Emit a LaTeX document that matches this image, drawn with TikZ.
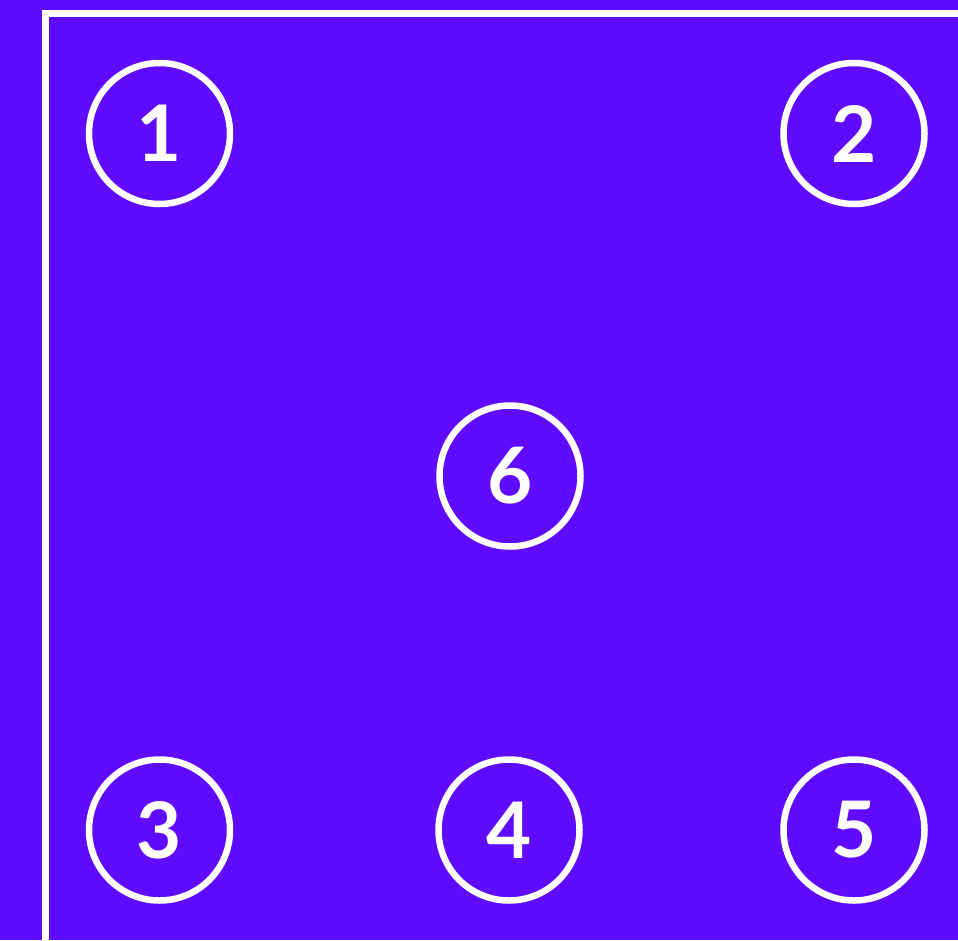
\documentclass[tikz,border=0pt]{standalone}
\usepackage{fontspec}
\setmainfont{Lato}
\definecolor{bgpurple}{HTML}{5E0BFF}
\begin{document}
\begin{tikzpicture}[x=1pt,y=-1pt,
  numcircle/.style={circle,draw=white,line width=6.5pt,minimum size=141pt,inner sep=0pt,
    text=white,font=\fontsize{78}{78}\selectfont\bfseries},
  frame/.style={draw=white,line width=7pt}]
\fill[bgpurple] (0,0) rectangle (958,940);
\useasboundingbox (0,0) rectangle (958,940);
\coordinate (fb) at (45.5,945);
\coordinate (fc) at (45.5,13.7);
\coordinate (fr) at (965,13.7);
\draw[frame] (fb) -- (fc) -- (fr);
\node[numcircle] (n1) at (159.5,133.5) {1};
\node[numcircle] (n2) at (854,133.5) {2};
\node[numcircle] (n6) at (510,476) {6};
\node[numcircle] (n3) at (159.5,830) {3};
\node[numcircle] (n4) at (509,830) {4};
\node[numcircle] (n5) at (854,830) {5};
\end{tikzpicture}
\end{document}
